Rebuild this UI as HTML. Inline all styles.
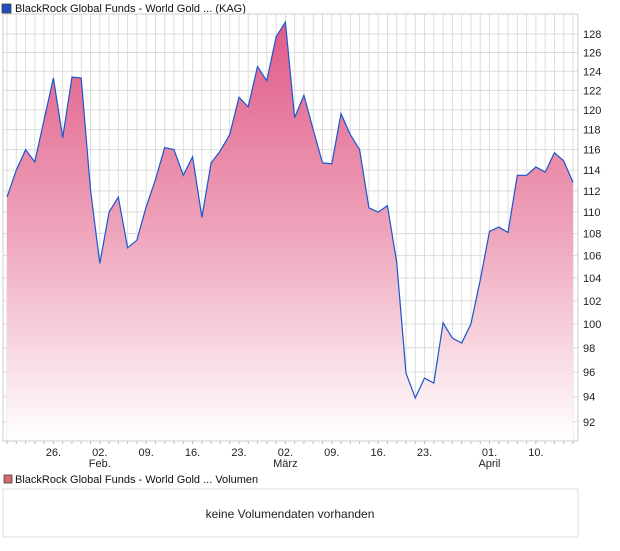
<!DOCTYPE html>
<html><head><meta charset="utf-8"><style>
body{margin:0;background:#fff;font-family:"Liberation Sans",sans-serif;}
svg text{font-family:"Liberation Sans",sans-serif;}
</style></head><body>
<svg width="620" height="546" xmlns="http://www.w3.org/2000/svg">
<defs><linearGradient id="g" gradientUnits="userSpaceOnUse" x1="0" y1="20" x2="0" y2="440">
<stop offset="0" stop-color="#e05a88"/><stop offset="0.5" stop-color="#eea3ba"/><stop offset="1" stop-color="#ffffff"/></linearGradient></defs>
<rect x="2" y="4" width="9" height="9" fill="#1f4fbf" stroke="#333" stroke-width="0.7"/>
<text x="15" y="12" font-size="11" fill="#111">BlackRock Global Funds - World Gold ... (KAG)</text>
<g id="grid"></g>
<path id="area" fill="url(#g)"/>
<path id="line" fill="none" stroke="#1a56cc" stroke-width="1.2"/>
<rect x="3" y="14" width="575" height="427" fill="none" stroke="#ccc"/>
<g id="yax"></g>
<g id="xax"></g>
<rect x="4" y="475" width="8" height="8" fill="#d46a6a" stroke="#333" stroke-width="0.7"/>
<text x="15" y="483" font-size="11" fill="#111">BlackRock Global Funds - World Gold ... Volumen</text>
<rect x="3" y="489" width="575" height="48" fill="#fff" stroke="#ddd"/>
<text x="290" y="518" font-size="12" fill="#222" text-anchor="middle">keine Volumendaten vorhanden</text>
</svg>
<script>
const values=[111.4,114.0,116.0,114.8,119.0,123.3,117.2,123.4,123.3,112.1,105.3,110.0,111.4,106.7,107.4,110.5,113.1,116.2,116.0,113.5,115.3,109.5,114.7,115.9,117.5,121.3,120.3,124.5,123.0,127.7,129.3,119.2,121.5,118.0,114.7,114.6,119.6,117.5,116.0,110.4,110.0,110.6,105.4,95.9,93.9,95.5,95.1,100.1,98.8,98.4,100.0,103.8,108.2,108.6,108.1,113.5,113.5,114.3,113.8,115.7,114.9,112.8];
const yTicks=[92,94,96,98,100,102,104,106,108,110,112,114,116,118,120,122,124,126,128];
const xLabelIdx=[5,10,15,20,25,30,35,40,45,52,57];
const xLabels=["26.","02.","09.","16.","23.","02.","09.","16.","23.","01.","10."];
const monthIdx=[10,30,52];
const monthLabels=["Feb.","März","April"];
const NS="http://www.w3.org/2000/svg";
const X=i=>7+i*(566/61);
const Y=v=>34+Math.log(128/v)/Math.log(128/92)*388;
function mk(t,a,p){const e=document.createElementNS(NS,t);for(const k in a)e.setAttribute(k,a[k]);p.appendChild(e);return e;}
const grid=document.getElementById('grid'),yax=document.getElementById('yax'),xax=document.getElementById('xax');
for(let i=0;i<values.length;i++){
 const l=mk('line',{x1:X(i),x2:X(i),y1:14,y2:441,stroke:'#dcdcdc'},grid);
 
 
 const t=mk('line',{x1:X(i),x2:X(i),y1:441,y2:444,stroke:'#bbb'},xax);
 
 
}
yTicks.forEach(v=>{
 const l=mk('line',{x1:3,x2:578,y1:Y(v),y2:Y(v),stroke:'#dcdcdc'},grid);
 
 
 const t=mk('text',{x:583,y:Y(v)+4,'font-size':11,fill:'#222'},yax);t.textContent=v;
 
 
});
xLabelIdx.forEach((i,k)=>{
 const t=mk('text',{x:X(i),y:456,'font-size':11,fill:'#222','text-anchor':'middle'},xax);t.textContent=xLabels[k];
 
 
});
monthIdx.forEach((i,k)=>{
 const t=mk('text',{x:X(i),y:467,'font-size':11,fill:'#222','text-anchor':'middle'},xax);t.textContent=monthLabels[k];
 
 
});
let d=values.map((v,i)=>(i?'L':'M')+X(i).toFixed(1)+' '+Y(v).toFixed(1)).join(' ');
document.getElementById('line').setAttribute('d',d);
document.getElementById('area').setAttribute('d',d+` L${X(values.length-1)} 441 L${X(0)} 441 Z`);
</script>
</body></html>
